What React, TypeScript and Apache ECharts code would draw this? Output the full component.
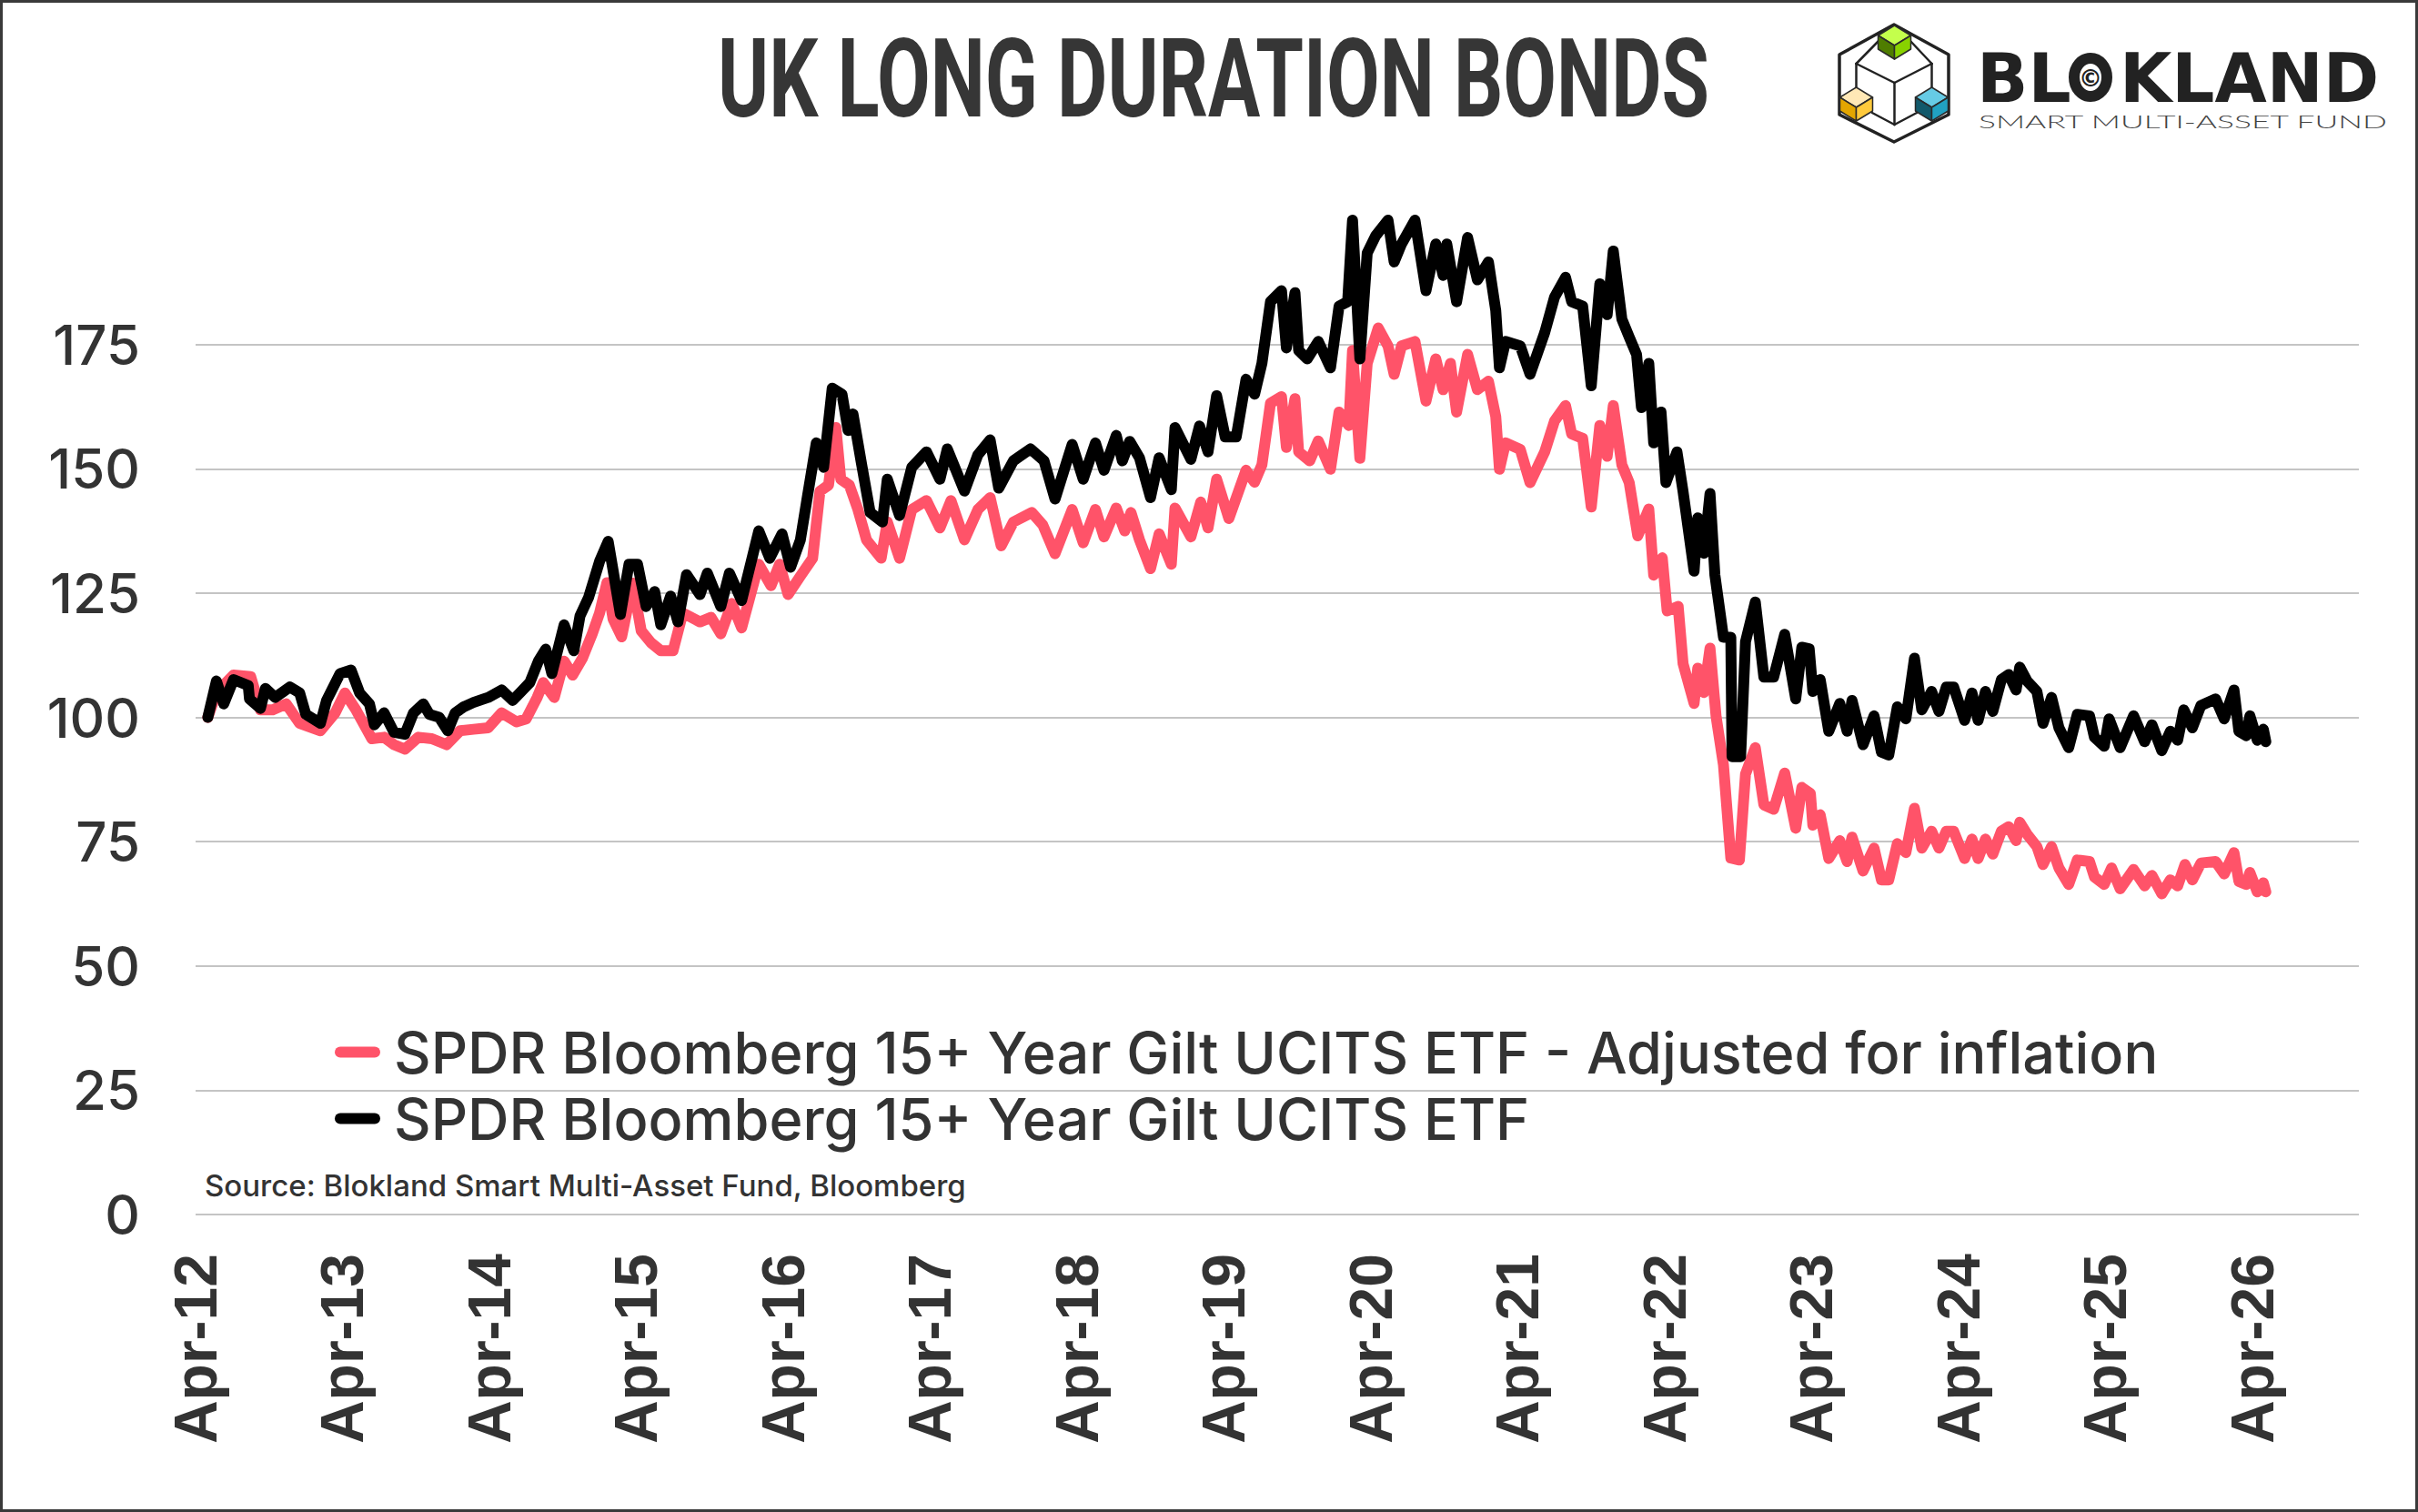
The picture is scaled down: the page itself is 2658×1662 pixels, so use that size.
import { useEffect, useRef } from 'react';
import * as echarts from 'echarts';

const RED = '#FF5369';
const INK = '#333333';

const seriesNames = [
  'SPDR Bloomberg 15+ Year Gilt UCITS ETF - Adjusted for inflation',
  'SPDR Bloomberg 15+ Year Gilt UCITS ETF',
];

// x = months since Apr-12
const xTickLabels = [
  'Apr-12', 'Apr-13', 'Apr-14', 'Apr-15', 'Apr-16', 'Apr-17', 'Apr-18', 'Apr-19',
  'Apr-20', 'Apr-21', 'Apr-22', 'Apr-23', 'Apr-24', 'Apr-25', 'Apr-26',
];

const yTicks = [0, 25, 50, 75, 100, 125, 150, 175];

// inflation adjusted index (red)
const inflationAdjusted: [number, number][] = [
  [1.0, 100], [1.7, 105], [3.1, 108.5], [4.5, 108.2], [5.3, 101.5], [6.3, 101.5], [7.4, 102.7],
  [8.5, 98.8], [10.2, 97.3], [11.4, 100.9], [12.2, 104.9], [13.1, 101.5], [14.4, 95.7], [15.4, 96],
  [16.2, 94.5], [17.1, 93.6], [18.2, 96], [19.3, 95.7], [20.5, 94.5], [21.6, 97.3], [22.7, 97.6],
  [23.9, 97.9], [25.0, 100.9], [26.2, 99.1], [27.0, 99.7], [27.9, 104], [28.4, 107], [29.3, 104],
  [30.1, 111.3], [30.8, 108.5], [31.6, 111.9], [32.4, 116.8], [33.0, 121], [33.6, 127.1], [34.1, 119.8],
  [34.8, 116.2], [35.7, 127], [36.4, 117.4], [37.2, 115], [38.0, 113.4], [39.0, 113.4], [39.8, 121],
  [41.2, 119.2], [42.1, 120.1], [42.9, 116.8], [43.8, 122.9],
  [44.6, 118], [46.0, 130.8], [47.0, 126.5], [47.7, 130.8], [48.4, 124.7], [49.4, 128.4], [50.4, 132],
  [51.0, 145.5], [51.7, 146.7], [52.3, 158.3], [52.7, 147.9], [53.4, 146.7], [54.1, 141.8], [54.8, 135.7],
  [56.0, 132], [56.5, 139.3], [57.5, 132], [58.5, 141.8], [59.7, 143.6], [60.8, 138.1], [61.7, 143.6],
  [62.8, 135.7], [63.9, 141.8], [64.9, 144.2], [65.8, 134.5], [66.8, 139.3], [68.3, 141.2], [69.2, 138.7],
  [70.2, 132.9], [71.6, 141.8], [72.5, 135.1], [73.5, 141.8], [74.2, 136.3], [75.2, 142.1], [75.9, 137.5],
  [76.4, 141.2], [77.1, 135.7], [78.0, 129.9], [78.7, 136.9], [79.7, 130.8], [80.0, 142.1], [81.3, 136.3],
  [82.1, 143.3], [82.7, 138.1], [83.4, 147.9], [84.4, 140], [85.8, 149.7], [86.5, 147.3],
  [87.1, 150.8], [87.8, 163.2], [88.7, 164.5], [89.1, 154.3], [89.8, 164.1], [90.1, 153.4], [91.0, 151.6],
  [91.7, 155.6], [92.7, 149.9], [93.4, 161.4], [94.2, 158.7], [94.5, 173.8], [95.1, 152.1], [95.7, 171.2],
  [96.6, 178.3], [97.4, 174.7], [97.9, 169], [98.5, 174.7], [99.6, 175.6], [100.5, 163.6], [101.3, 172.1],
  [101.9, 165.9], [102.5, 171.2], [103.0, 161.4], [103.9, 173], [104.7, 165.9], [105.6, 167.6], [106.2, 160.5],
  [106.5, 149.9], [107.0, 155.2], [108.2, 153.9], [109.0, 147.2], [110.2, 153.4], [111.0, 159.6], [111.9, 162.7],
  [112.4, 157], [113.3, 156.1], [114.0, 142.3], [114.7, 158.7], [115.3, 152.5], [115.8, 162.7], [116.5, 150.8],
  [117.1, 147.2], [117.8, 136.5], [118.7, 141.9], [119.1, 128.6], [119.8, 132.1], [120.2, 121.4], [121.1, 122.3],
  [121.5, 110.8], [122.4, 102.8], [122.7, 109.9], [123.2, 105], [123.7, 113.9], [124.2, 100.1], [124.8, 90.4],
  [125.4, 71.7], [126.1, 71.3], [126.6, 88.6], [127.4, 93.9], [128.1, 82.4], [128.9, 81.5], [129.8, 88.8],
  [130.7, 77.7], [131.2, 85.9], [131.9, 84.7], [132.1, 78.3], [132.7, 80.4], [133.4, 71.6], [134.3, 75.2],
  [134.9, 71], [135.3, 75.9], [136.2, 69.1], [137.1, 73.7], [137.7, 67.3], [138.3, 67.3], [139.0, 74.6],
  [139.7, 72.8], [140.4, 81.7], [141.0, 73.7], [141.8, 77.1], [142.4, 73.7], [143.0, 77.1], [143.6, 77.1],
  [144.5, 71.6], [145.1, 75.5], [145.6, 71.6], [146.2, 75.5], [146.8, 72.5], [147.5, 77.1], [148.1, 78],
  [148.7, 75.2], [149.0, 78.9], [149.6, 76.5], [150.4, 74], [150.9, 70.4], [151.6, 74], [152.2, 69.7],
  [153.0, 66.4], [153.7, 71.3], [154.7, 71], [155.1, 67.9], [155.9, 66.4], [156.5, 69.7], [157.2, 65.5],
  [158.3, 69.4], [159.2, 66.1], [159.8, 68.2], [160.6, 64.5], [161.3, 67.3], [161.9, 66.1], [162.5, 70.4],
  [163.1, 67.3], [163.8, 70.7], [165.0, 71], [165.7, 68.5], [166.5, 72.8], [166.9, 67], [167.5, 66.4],
  [167.8, 68.8], [168.4, 64.9], [168.9, 66.7], [169.1, 64.9],
];

// nominal index (black)
const nominal: [number, number][] = [
  [1.0, 100], [1.7, 107.3], [2.3, 102.7], [3.1, 107.6], [4.3, 106.4], [4.4, 103.7], [5.3, 101.8],
  [5.7, 105.8], [6.5, 104], [7.7, 106.1], [8.5, 104.9], [9.0, 100.6], [10.2, 98.8], [10.7, 103.4],
  [11.8, 108.8], [12.7, 109.5], [13.4, 104.9], [14.2, 102.7], [14.6, 98.5], [15.4, 100.9], [16.2, 97],
  [17.1, 96.6], [17.8, 100.9], [18.6, 102.7], [19.1, 100.6], [19.9, 100], [20.6, 97.3], [21.2, 100.9],
  [21.9, 102.1], [22.7, 103], [23.9, 104], [25.0, 105.5], [25.9, 103.4], [26.6, 105.2], [27.3, 107],
  [28.0, 111.3], [28.6, 113.7], [29.1, 108.8], [30.1, 118.6], [30.9, 113.4], [31.4, 120.4], [32.1, 124.1],
  [33.0, 131.4], [33.7, 135.4], [34.1, 129.6], [34.7, 120.7], [35.4, 130.8], [36.1, 130.8], [36.8, 122.3],
  [37.5, 125.3], [38.0, 118.6], [38.8, 124.4], [39.4, 119.2], [40.1, 128.7], [41.2, 124.7], [41.8, 129],
  [42.9, 122.3], [43.6, 129],
  [44.6, 123.5], [46.0, 137.5], [46.9, 132], [47.9, 136.9], [48.6, 130.2], [49.4, 135.7], [50.0, 144.8],
  [50.7, 155.2], [51.3, 150.3], [52.0, 166.2], [52.8, 165], [53.3, 157.7], [53.7, 161], [54.4, 150.9],
  [55.1, 141.2], [56.1, 139.3], [56.5, 147.9], [57.5, 140.6], [58.5, 150.3], [59.7, 153.4], [60.8, 147.9],
  [61.4, 154], [62.8, 145.5], [63.9, 152.8], [64.9, 155.8], [65.6, 146.1], [66.8, 151.6], [68.2, 154],
  [69.3, 151.6], [70.2, 143.9], [71.6, 154.9], [72.5, 147.9], [73.5, 155.2], [74.2, 149.7], [75.2, 156.7],
  [75.7, 151.6], [76.3, 155.5], [77.1, 152.2], [78.0, 144.2], [78.7, 152.2], [79.7, 145.8], [80.0, 158.3],
  [81.3, 151.9], [82.0, 158.6], [82.7, 153.4], [83.4, 164.7], [84.1, 156.4], [85.0, 156.4], [85.8, 168],
  [86.5, 165],
  [87.1, 171.2], [87.8, 183.6], [88.7, 185.8], [89.1, 174.3], [89.8, 185.4], [90.1, 173.8], [90.8, 172.1],
  [91.7, 175.6], [92.7, 170.3], [93.4, 182.7], [94.1, 183.6], [94.5, 200], [95.1, 172.1], [95.7, 193.4],
  [96.4, 196.9], [97.4, 200], [97.9, 191.6], [98.5, 195.2], [99.6, 200], [100.5, 185.8], [101.3, 195.2],
  [101.9, 188.9], [102.2, 195.2], [103.0, 183.6], [103.9, 196.5], [104.7, 188], [105.6, 191.6], [106.2, 181.8],
  [106.5, 170.3], [107.0, 175.6], [108.2, 174.7], [109.0, 169], [110.2, 177.4], [111.0, 184.5], [111.9, 188.5],
  [112.4, 183.6], [113.3, 182.7], [114.0, 166.7], [114.7, 187.2], [115.3, 181], [115.8, 193.8], [116.5, 180.1],
  [117.1, 176.5], [117.7, 173], [118.1, 162.3], [118.7, 171.2], [119.1, 155.2], [119.7, 161.4], [120.1, 147.2],
  [121.0, 153.4], [121.5, 145.4], [122.4, 129.4], [122.7, 140.1], [123.2, 133], [123.7, 145], [124.1, 128.6],
  [124.8, 116.1], [125.4, 116.1], [125.5, 92.1], [126.2, 92.1], [126.6, 115.2], [127.4, 123.2], [128.1, 108.1],
  [128.9, 108.1], [129.8, 116.7],
  [130.7, 103.7], [131.2, 114.1], [131.8, 113.8], [132.1, 105.2], [132.7, 107.6], [133.4, 97.2], [134.3, 102.8],
  [134.9, 97.2], [135.3, 103.4], [136.2, 94.5], [137.1, 100.3], [137.7, 93], [138.3, 92.4], [139.0, 102.1],
  [139.7, 99.7], [140.4, 111.9], [141.0, 101.5], [141.8, 105.2], [142.4, 101.2], [143.0, 106.1], [143.6, 106.1],
  [144.5, 99.4], [145.1, 104.9], [145.6, 99.4], [146.2, 105.2], [146.8, 101.2], [147.5, 107.6], [148.1, 108.6],
  [148.7, 105.5], [149.0, 110.1], [149.6, 107.3], [150.4, 105.2], [150.9, 98.8], [151.6, 104], [152.2, 97.9],
  [153.0, 93.9], [153.7, 100.6], [154.7, 100.3], [155.1, 96], [155.9, 94.2], [156.3, 99.7], [157.2, 93.9],
  [158.3, 100.3], [159.2, 95.1], [159.8, 98.5], [160.6, 93.3], [161.3, 97.2], [161.9, 95.4], [162.4, 101.5],
  [163.1, 97.9], [163.8, 102.4], [165.0, 103.7], [165.7, 99.7], [166.5, 105.5], [166.9, 97.2], [167.5, 96.3],
  [167.8, 100.3], [168.4, 95.4], [168.9, 97.6], [169.1, 95.1],
];

// isometric cube faces for the logo
function cube(cx: number, top: number, colors: string[]) {
  const hw = 18, dh = 11, vh = 15;
  const stroke = { stroke: '#2a2a2a', lineWidth: 1.5, lineJoin: 'round' };
  return [
    { type: 'polygon', shape: { points: [[cx, top], [cx + hw, top + dh], [cx, top + 2 * dh], [cx - hw, top + dh]] }, style: { fill: colors[0], ...stroke } },
    { type: 'polygon', shape: { points: [[cx - hw, top + dh], [cx, top + 2 * dh], [cx, top + 2 * dh + vh], [cx - hw, top + dh + vh]] }, style: { fill: colors[1], ...stroke } },
    { type: 'polygon', shape: { points: [[cx, top + 2 * dh], [cx + hw, top + dh], [cx + hw, top + dh + vh], [cx, top + 2 * dh + vh]] }, style: { fill: colors[2], ...stroke } },
  ];
}

function logo() {
  const line = (x1: number, y1: number, x2: number, y2: number) => ({
    type: 'line', shape: { x1, y1, x2, y2 }, style: { stroke: '#222', lineWidth: 2.5, lineCap: 'round' },
  });
  return [
    {
      type: 'polygon',
      shape: { points: [[2082, 27], [2142, 60], [2142, 126], [2082, 156], [2022, 126], [2022, 60]] },
      style: { fill: 'none', stroke: '#222', lineWidth: 3.5, lineJoin: 'round' },
    },
    line(2066, 44, 2040.5, 70), line(2099, 44, 2123.5, 70),
    line(2040.5, 70, 2082.5, 91), line(2123.5, 70, 2082.5, 91),
    line(2040.5, 70, 2040.5, 100), line(2082.5, 91, 2082.5, 137), line(2123.5, 70, 2123.5, 100),
    line(2058, 124, 2082.5, 137), line(2107, 124, 2082.5, 137),
    ...cube(2082.5, 28, ['#C4FF4C', '#4F7D00', '#88D200']),
    ...cube(2040.5, 96, ['#FFE8B6', '#E3A600', '#FFCA3C']),
    ...cube(2123.5, 96, ['#66CBE5', '#12596B', '#21A1C1']),
    { type: 'text', x: 2173, y: 86, style: { text: 'BL', font: 'bold 74px "DejaVu Sans"', fill: '#222', textVerticalAlign: 'middle' } },
    { type: 'ellipse', shape: { cx: 2298, cy: 85, rx: 18, ry: 21 }, style: { fill: 'none', stroke: '#222', lineWidth: 12 } },
    { type: 'text', x: 2298, y: 86, style: { text: '©', font: 'bold 26px "DejaVu Sans"', fill: '#222', textAlign: 'center', textVerticalAlign: 'middle' } },
    { type: 'text', x: 2330, y: 86, style: { text: 'KLAND', font: 'bold 74px "DejaVu Sans"', fill: '#222', textVerticalAlign: 'middle' } },
    {
      type: 'text', x: 2175, y: 133, scaleX: 1.77,
      style: { text: 'SMART MULTI-ASSET FUND', font: '300 20px Lato', fill: '#444', textVerticalAlign: 'middle' },
    },
  ];
}

export default function App() {
  const chartRef = useRef<HTMLDivElement>(null);

  useEffect(() => {
    if (!chartRef.current) return;
    const chart = echarts.init(chartRef.current, undefined, { renderer: 'svg' });

    const option = {
      animation: false,
      backgroundColor: '#ffffff',
      grid: { left: 215, right: 65, top: 242, bottom: 327 },
      xAxis: {
        type: 'value',
        min: 0,
        max: 176.7,
        interval: 12,
        axisLine: { show: false },
        axisTick: { show: false },
        splitLine: { show: false },
        axisLabel: {
          rotate: 90,
          margin: 43,
          showMaxLabel: false,
          color: INK,
          fontFamily: '"Liberation Sans", Arial, sans-serif',
          fontWeight: 'bold',
          fontSize: 66,
          formatter: (v: number) => (v % 12 === 0 ? xTickLabels[v / 12] ?? '' : ''),
        },
      },
      yAxis: {
        type: 'value',
        min: 0,
        max: 200,
        interval: 25,
        axisLine: { show: false },
        axisTick: { show: false },
        splitLine: { show: true, showMaxLine: false, lineStyle: { color: '#C4C4C4', width: 2 } },
        axisLabel: {
          margin: 61,
          color: INK,
          fontFamily: 'Inter, sans-serif',
          fontWeight: 500,
          fontSize: 60,
          formatter: (v: number) => (yTicks.includes(v) ? String(v) : ''),
        },
      },
      legend: {
        orient: 'vertical',
        left: 363,
        top: 1120,
        itemWidth: 50,
        itemHeight: 12,
        itemGap: 10,
        icon: 'path://M6,0 L44,0 A6,6 0 0 1 44,12 L6,12 A6,6 0 0 1 6,0 Z',
        selectedMode: false,
        data: seriesNames,
        textStyle: {
          color: INK,
          fontFamily: 'Inter, sans-serif',
          fontWeight: 500,
          fontSize: 63,
          lineHeight: 62,
          padding: [0, 0, 0, 10],
        },
      },
      graphic: [
        {
          type: 'text', x: 1334, y: 86, scaleX: 0.71,
          style: { text: 'UK LONG DURATION BONDS', font: 'bold 120px Roboto', fill: '#363636', textAlign: 'center', textVerticalAlign: 'middle' },
        },
        {
          type: 'text', x: 225, y: 1303,
          style: { text: 'Source: Blokland Smart Multi-Asset Fund, Bloomberg', font: '500 33px Inter', fill: INK, textVerticalAlign: 'middle' },
        },
        ...logo(),
      ],
      series: [
        {
          type: 'line',
          name: seriesNames[0],
          data: inflationAdjusted,
          showSymbol: false,
          symbol: 'none',
          itemStyle: { color: RED },
          lineStyle: { color: RED, width: 12, cap: 'round', join: 'round' },
          z: 2,
        },
        {
          type: 'line',
          name: seriesNames[1],
          data: nominal,
          showSymbol: false,
          symbol: 'none',
          itemStyle: { color: '#000000' },
          lineStyle: { color: '#000000', width: 12, cap: 'round', join: 'round' },
          z: 3,
        },
      ],
    };

    chart.setOption(option);
    return () => chart.dispose();
  }, []);

  return (
    <div style={{ position: 'fixed', left: 0, top: 0, width: 2658, height: 1662, background: '#fff' }}>
      <div ref={chartRef} style={{ width: 2658, height: 1662 }} />
      <div
        style={{
          position: 'absolute', left: 0, top: 0, width: 2658, height: 1662,
          boxSizing: 'border-box', border: '3px solid #3a3a3a', pointerEvents: 'none',
        }}
      />
    </div>
  );
}
